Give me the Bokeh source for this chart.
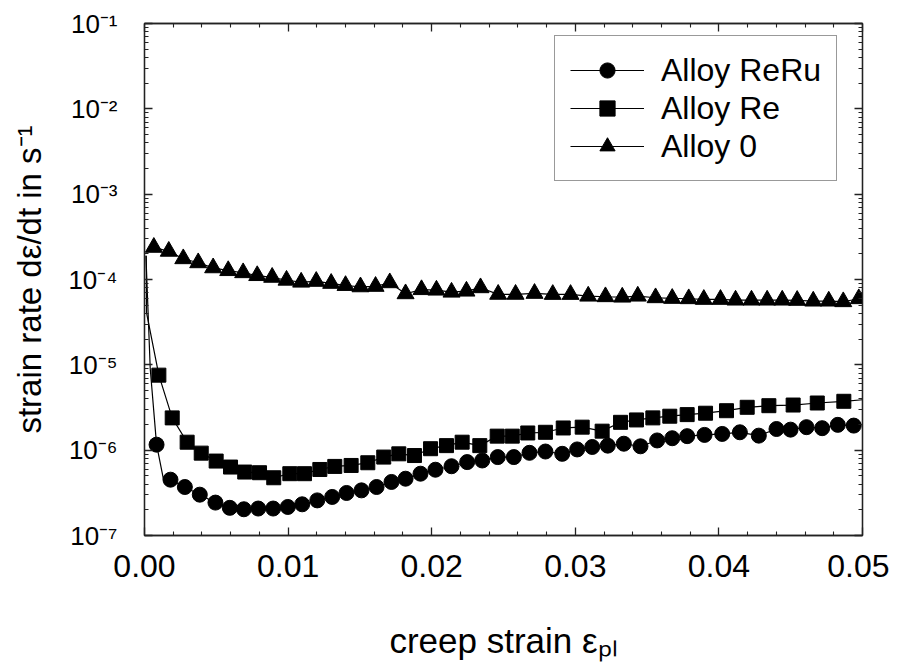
from bokeh.plotting import figure
from bokeh.models import (FixedTicker, LinearAxis, LogAxis, Range1d, Legend, LegendItem,
                          CustomJSTickFormatter, PrintfTickFormatter)
from bokeh.embed import file_html
from bokeh.resources import INLINE

FONT = "Liberation Sans"

# ---------------- data ----------------
x_ticks = [0.00, 0.01, 0.02, 0.03, 0.04, 0.05]
y_exponents = [-7, -6, -5, -4, -3, -2, -1]

reru_x = [0.00084, 0.00181, 0.00281, 0.00385, 0.00494, 0.00594, 0.00692, 0.00792, 0.00896, 0.00998,
          0.01098, 0.01203, 0.01307, 0.01407, 0.01511, 0.01616, 0.01720, 0.01818, 0.01922, 0.02026,
          0.02138, 0.02247, 0.02352, 0.02460, 0.02572, 0.02681, 0.02792, 0.02909, 0.03013, 0.03118,
          0.03226, 0.03338, 0.03454, 0.03570, 0.03675, 0.03779, 0.03900, 0.04023, 0.04146, 0.04278,
          0.04401, 0.04499, 0.04610, 0.04719, 0.04828, 0.04939]
reru_y = [1.16e-6, 4.51e-7, 3.70e-7, 3.01e-7, 2.43e-7, 2.11e-7, 2.03e-7, 2.07e-7, 2.07e-7, 2.16e-7,
          2.32e-7, 2.58e-7, 2.83e-7, 3.15e-7, 3.38e-7, 3.70e-7, 4.24e-7, 4.63e-7, 5.30e-7, 5.90e-7,
          6.48e-7, 7.25e-7, 7.57e-7, 8.30e-7, 8.30e-7, 9.31e-7, 9.64e-7, 9.06e-7, 1.02e-6, 1.09e-6,
          1.13e-6, 1.19e-6, 1.11e-6, 1.30e-6, 1.38e-6, 1.46e-6, 1.51e-6, 1.55e-6, 1.62e-6, 1.48e-6,
          1.77e-6, 1.74e-6, 1.86e-6, 1.81e-6, 1.98e-6, 1.94e-6]
# unmarked points of the ReRu curve (steep start and knee)
reru_lead_x = [0.0001, 0.0004]
reru_lead_y = [1.9e-4, 9.0e-6]
reru_knee_x = [0.00134]
reru_knee_y = [4.4e-7]

re_x = [0.00100, 0.00193, 0.00297, 0.00395, 0.00499, 0.00599, 0.00698, 0.00801, 0.00900, 0.01012,
        0.01114, 0.01221, 0.01325, 0.01439, 0.01555, 0.01666, 0.01771, 0.01880, 0.01992, 0.02103,
        0.02212, 0.02335, 0.02456, 0.02561, 0.02669, 0.02792, 0.02916, 0.03048, 0.03187, 0.03315,
        0.03426, 0.03540, 0.03658, 0.03779, 0.03907, 0.04053, 0.04197, 0.04348, 0.04517, 0.04685,
        0.04870]
re_y = [7.57e-6, 2.39e-6, 1.24e-6, 9.23e-7, 7.45e-7, 6.34e-7, 5.54e-7, 5.44e-7, 4.75e-7, 5.30e-7,
        5.30e-7, 5.94e-7, 6.45e-7, 6.62e-7, 7.12e-7, 8.30e-7, 9.06e-7, 8.65e-7, 1.04e-6, 1.13e-6,
        1.24e-6, 1.13e-6, 1.46e-6, 1.46e-6, 1.59e-6, 1.62e-6, 1.82e-6, 1.86e-6, 1.67e-6, 2.12e-6,
        2.26e-6, 2.39e-6, 2.50e-6, 2.61e-6, 2.71e-6, 2.90e-6, 3.18e-6, 3.32e-6, 3.38e-6, 3.57e-6,
        3.74e-6]
re_lead_x = [0.00012, 0.00014]
re_lead_y = [1.9e-4, 4.1e-5]
re_tail_x = [0.05]
re_tail_y = [3.9e-6]

a0_x = [0.00065, 0.00169, 0.00270, 0.00374, 0.00478, 0.00583, 0.00687, 0.00785, 0.00889, 0.00989,
        0.01091, 0.01196, 0.01300, 0.01400, 0.01504, 0.01609, 0.01708, 0.01818, 0.01929, 0.02033,
        0.02138, 0.02242, 0.02340, 0.02463, 0.02584, 0.02716, 0.02843, 0.02967, 0.03090, 0.03210,
        0.03327, 0.03435, 0.03559, 0.03675, 0.03790, 0.03895, 0.04011, 0.04116, 0.04227, 0.04336,
        0.04441, 0.04545, 0.04657, 0.04765, 0.04866, 0.04974]
a0_y = [2.38e-4, 2.14e-4, 1.75e-4, 1.57e-4, 1.37e-4, 1.27e-4, 1.20e-4, 1.11e-4, 1.06e-4, 0.98e-4,
        0.93e-4, 0.95e-4, 0.90e-4, 0.85e-4, 0.82e-4, 0.83e-4, 0.915e-4, 0.68e-4, 0.76e-4, 0.75e-4,
        0.71e-4, 0.73e-4, 0.80e-4, 0.67e-4, 0.67e-4, 6.87e-5, 6.68e-5, 6.68e-5, 6.38e-5, 6.28e-5,
        6.21e-5, 6.38e-5, 6.11e-5, 6.00e-5, 5.95e-5, 5.84e-5, 5.84e-5, 5.73e-5, 5.73e-5, 5.73e-5,
        5.73e-5, 5.69e-5, 5.58e-5, 5.58e-5, 5.49e-5, 5.95e-5]
a0_lead_x = [0.00014]
a0_lead_y = [2.12e-4]

series_names = ["Alloy ReRu", "Alloy Re", "Alloy 0"]
x_title = "creep strain \u03b5\u209a\u2097"
y_title = "strain rate d\u03b5/dt in s\u207b\u00b9"

# ---------------- figure ----------------
p = figure(width=889, height=662, x_range=Range1d(0, 0.05), y_range=Range1d(1e-7, 1e-1),
           y_axis_type="log", output_backend="svg", toolbar_location=None,
           min_border_left=144, min_border_right=27, min_border_top=23, min_border_bottom=125)
p.xgrid.visible = False
p.ygrid.visible = False
p.outline_line_color = "#222222"
p.outline_line_width = 1.3
p.background_fill_color = "white"
p.border_fill_color = "white"

x_minor = [round(i * 0.002, 4) for i in range(26) if i % 5]
y_major = [10.0 ** e for e in y_exponents]
y_minor = [m * 10.0 ** e for e in y_exponents[:-1] for m in range(2, 10)]
x_ticker = FixedTicker(ticks=x_ticks, minor_ticks=x_minor)
y_ticker = FixedTicker(ticks=y_major, minor_ticks=y_minor)
blank = CustomJSTickFormatter(code="return ''")
pow10 = CustomJSTickFormatter(code="""
const sup = {'-': '\u207b', '0': '\u2070', '1': '\u00b9', '2': '\u00b2', '3': '\u00b3',
             '4': '\u2074', '5': '\u2075', '6': '\u2076', '7': '\u2077', '8': '\u2078', '9': '\u2079'};
const e = Math.round(Math.log10(tick));
return '10' + String(e).split('').map(c => sup[c]).join('');
""")


def style(ax, hide_labels):
    ax.major_tick_in = 8
    ax.major_tick_out = 0
    ax.minor_tick_in = 4
    ax.minor_tick_out = 0
    ax.axis_line_color = "#222222"
    ax.axis_line_width = 1.3
    ax.major_tick_line_color = "#222222"
    ax.major_tick_line_width = 1.3
    ax.minor_tick_line_color = "#222222"
    ax.minor_tick_line_width = 1.1
    if hide_labels:
        ax.formatter = blank
        ax.major_label_standoff = 0
        ax.major_label_text_font_size = "1px"


# bottom axis
xa = p.xaxis[0]
xa.ticker = x_ticker
style(xa, False)
xa.formatter = PrintfTickFormatter(format="%.2f")
xa.major_label_text_font = FONT
xa.major_label_text_font_size = "32px"
xa.major_label_text_color = "black"
xa.major_label_standoff = 19
xa.axis_label = x_title
xa.axis_label_text_font = FONT
xa.axis_label_text_font_size = "35px"
xa.axis_label_text_font_style = "normal"
xa.axis_label_text_color = "black"
xa.axis_label_standoff = 41

# left axis
ya = p.yaxis[0]
ya.ticker = y_ticker
style(ya, False)
ya.formatter = pow10
ya.major_label_text_font = FONT
ya.major_label_text_font_size = "26px"
ya.major_label_text_color = "black"
ya.major_label_standoff = 27
ya.axis_label = y_title
ya.axis_label_text_font = FONT
ya.axis_label_text_font_size = "33px"
ya.axis_label_text_font_style = "normal"
ya.axis_label_text_color = "black"
ya.axis_label_standoff = 17

top_ax = LinearAxis(ticker=x_ticker)
style(top_ax, True)
p.add_layout(top_ax, "above")
right_ax = LogAxis(ticker=y_ticker)
style(right_ax, True)
p.add_layout(right_ax, "right")

# ---------------- series ----------------
LW = 1.2
l1 = p.line(reru_lead_x + reru_x[:1] + reru_knee_x + reru_x[1:],
            reru_lead_y + reru_y[:1] + reru_knee_y + reru_y[1:], line_color="black", line_width=LW)
m1 = p.scatter(reru_x, reru_y, marker="circle", size=15, color="black")
l2 = p.line(re_lead_x + re_x + re_tail_x, re_lead_y + re_y + re_tail_y, line_color="black", line_width=LW)
m2 = p.scatter(re_x, re_y, marker="square", size=14, color="black")
l3 = p.line(a0_lead_x + a0_x, a0_lead_y + a0_y, line_color="black", line_width=LW)
m3 = p.scatter(a0_x, a0_y, marker="triangle", size=17, color="black")

legend = Legend(items=[LegendItem(label=series_names[0], renderers=[l1, m1]),
                       LegendItem(label=series_names[1], renderers=[l2, m2]),
                       LegendItem(label=series_names[2], renderers=[l3, m3])],
                location=(410, 354), margin=0, padding=15, spacing=0,
                glyph_width=74, glyph_height=38, label_height=38, label_standoff=17,
                label_text_font=FONT, label_text_font_size="32px", label_text_color="black",
                border_line_color="#333333", border_line_width=1.3, background_fill_alpha=1.0)
p.add_layout(legend)

open("out.html", "w").write(file_html(p, INLINE))
